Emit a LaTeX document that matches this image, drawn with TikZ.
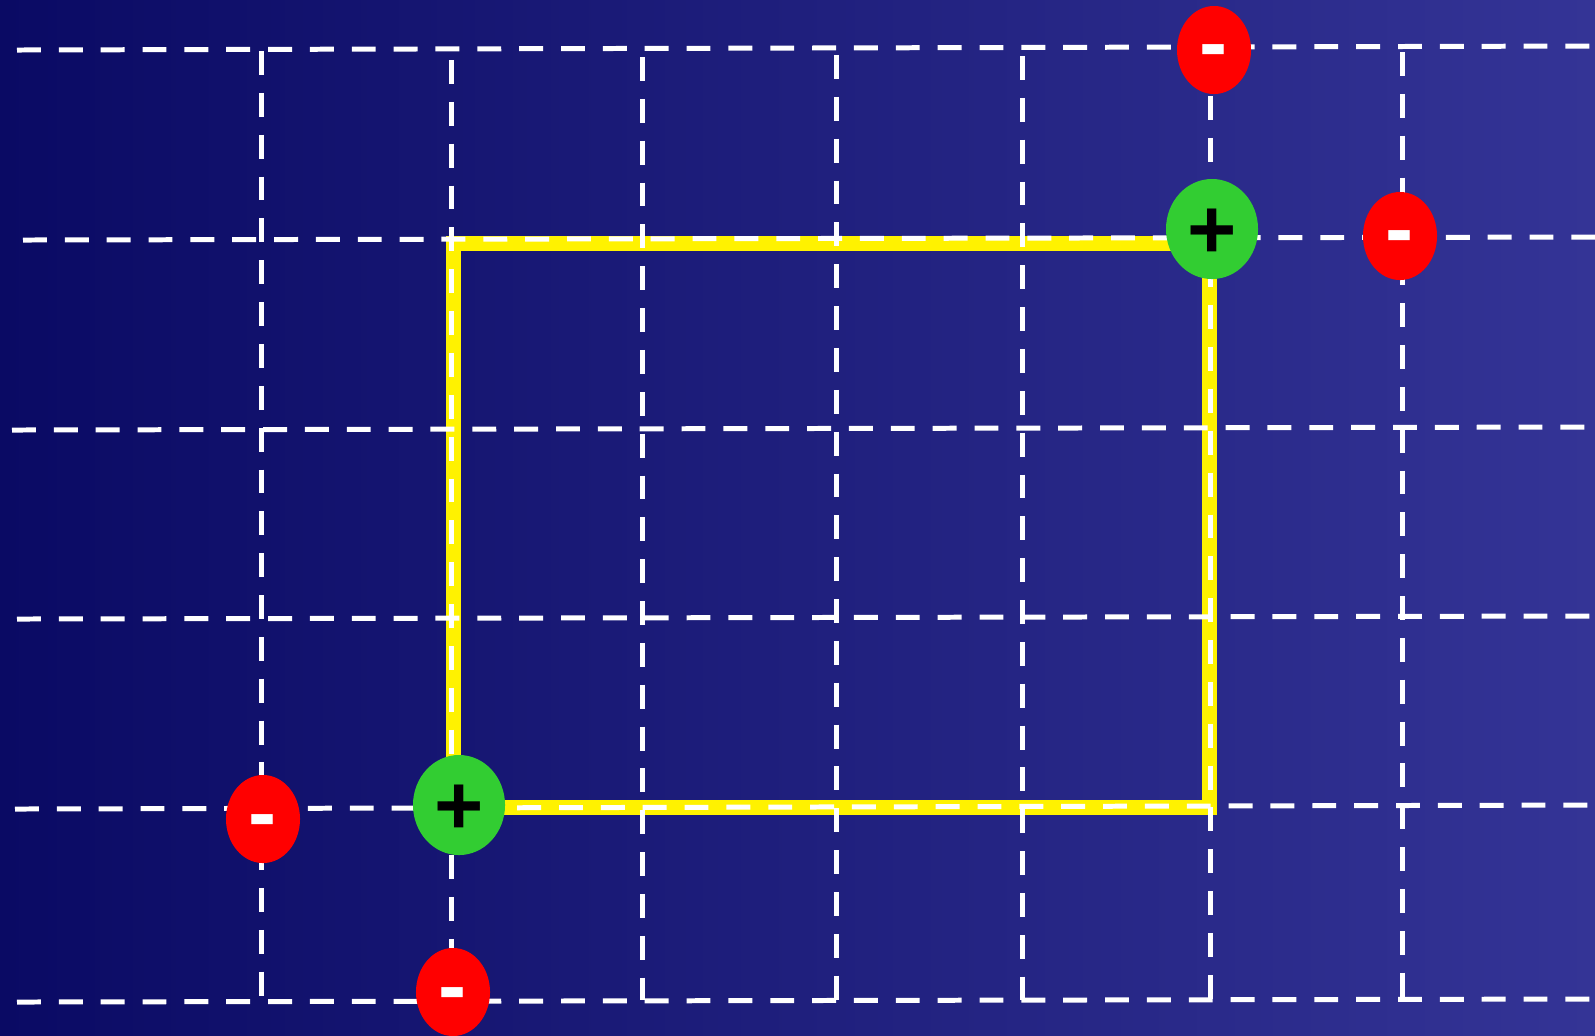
\documentclass[tikz,border=0pt]{standalone}
\usepackage{fontspec}
\setmainfont{Liberation Sans}
\usetikzlibrary{shapes.geometric}

\definecolor{bgleft}{RGB}{10,10,100}
\definecolor{bgright}{RGB}{52,52,150}
\definecolor{chargegreen}{RGB}{50,205,50}

\tikzset{
  gridline/.style={white, line width=1.42pt, dash pattern=on 6.8pt off 5.1pt},
  charge/.style={ellipse, inner sep=0pt, font=\fontsize{24}{24}\selectfont\bfseries},
  poscharge/.style={charge, fill=chargegreen, text=black, minimum width=0.92cm, minimum height=1.0cm, text height=16.8pt, text depth=0pt},
  negcharge/.style={charge, fill=red, text=white, minimum width=0.74cm, minimum height=0.88cm, text height=12.5pt, text depth=0pt},
}

\begin{document}
\begin{tikzpicture}[x=0.01cm, y=-0.01cm]
  % Background
  \fill[left color=bgleft, right color=bgright] (0,0) rectangle (1595,1035);
  \useasboundingbox (0,0) rectangle (1595,1035);
  % Current loop
  \draw[yellow, line width=4.27pt, line join=miter] (453,243) rectangle (1209,807);
  % Grid rows
  \foreach \xs/\yl/\yr in {17/50/46, 23/240/237, 12/430/427, 17/619/616, 15/809/805, 17/1002/999}
    \draw[gridline] (\xs,\yl) -- (1595,\yr);
  % Grid columns
  \foreach \x/\ys in {261/51, 451/60, 642/57, 836/55, 1022/56, 1210/96, 1402/52}
    \draw[gridline] (\x,\ys) -- (\x,1000);
  % Charges
  \node[poscharge] (plusTop) at (1212,229) {+};
  \node[poscharge] (plusBottom) at (459,805) {+};
  \node[negcharge] (minusTop) at (1214,50) {-};
  \node[negcharge] (minusRight) at (1400,236) {-};
  \node[negcharge] (minusLeft) at (263,819) {-};
  \node[negcharge] (minusBottom) at (453,992) {-};
\end{tikzpicture}
\end{document}
